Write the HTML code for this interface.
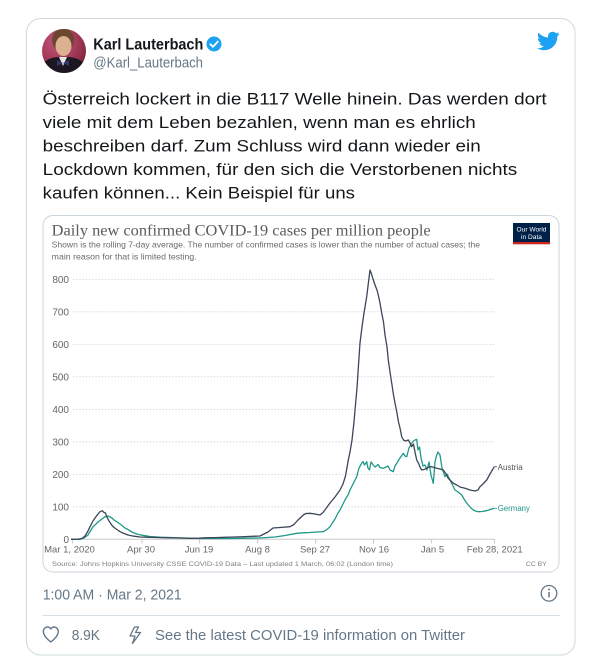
<!DOCTYPE html>
<html>
<head>
<meta charset="utf-8">
<style>
html,body{margin:0;padding:0;background:#fff;width:608px;height:666px;overflow:hidden}
svg{display:block}
</style>
</head>
<body>
<svg width="608" height="666" viewBox="0 0 608 666" xmlns="http://www.w3.org/2000/svg" font-family="'Liberation Sans', sans-serif">
  <defs>
    <clipPath id="av"><circle cx="64" cy="51" r="22"/></clipPath>
    <radialGradient id="bg" cx="0.35" cy="0.3" r="0.8">
      <stop offset="0" stop-color="#c2577a"/>
      <stop offset="0.6" stop-color="#9a3350"/>
      <stop offset="1" stop-color="#5a1a2c"/>
    </radialGradient>
  </defs>

  <!-- outer card -->
  <rect x="26.5" y="18.5" width="548.5" height="636.5" rx="14" fill="#fff" stroke="#cfd9de" stroke-width="1"/>

  <!-- avatar -->
  <g clip-path="url(#av)">
    <rect x="40" y="27" width="50" height="50" fill="url(#bg)"/>
    <ellipse cx="63" cy="40" rx="11" ry="12" fill="#6b4630"/>
    <ellipse cx="63.5" cy="46" rx="8" ry="10" fill="#dcb090"/>
    <path d="M40 80 L42 64 Q50 56 63 57 Q77 56 85 64 L88 80 Z" fill="#1c1620"/>
    <path d="M59 57 L63 66 L67 57 Z" fill="#e8e4e8"/>
    <path d="M57 60 L63 63 L57 66 Z M69 60 L63 63 L69 66 Z" fill="#2d3a70"/>
  </g>

  <!-- name / handle -->
  <text x="93.3" y="49.3" font-size="15.5" font-weight="bold" fill="#14171a" textLength="110" lengthAdjust="spacingAndGlyphs">Karl Lauterbach</text>
  <circle cx="214" cy="44" r="7.5" fill="#1da1f2"/>
  <path d="M210.3 44.2 L213 46.8 L217.8 41.6" fill="none" stroke="#fff" stroke-width="1.8" stroke-linecap="round" stroke-linejoin="round"/>
  <text x="93.3" y="67.7" font-size="15" fill="#657786" textLength="109.7" lengthAdjust="spacingAndGlyphs">@Karl_Lauterbach</text>

  <!-- twitter bird -->
  <g transform="translate(536,29)">
    <path fill="#1da1f2" d="M23.643 4.937c-.835.37-1.732.62-2.675.75.962-.576 1.7-1.49 2.048-2.578-.9.534-1.897.922-2.958 1.13-.85-.904-2.06-1.47-3.4-1.47-2.572 0-4.658 2.086-4.658 4.66 0 .364.042.718.12 1.06-3.873-.195-7.304-2.05-9.602-4.868-.4.69-.63 1.49-.63 2.342 0 1.616.823 3.043 2.072 3.878-.764-.025-1.482-.234-2.11-.583v.06c0 2.257 1.605 4.14 3.737 4.568-.392.106-.803.162-1.227.162-.3 0-.593-.028-.877-.082.593 1.85 2.313 3.198 4.352 3.234-1.595 1.25-3.604 1.995-5.786 1.995-.376 0-.747-.022-1.112-.065 2.062 1.323 4.51 2.093 7.14 2.093 8.57 0 13.255-7.098 13.255-13.254 0-.2-.005-.402-.014-.602.91-.658 1.7-1.477 2.323-2.41z"/>
  </g>

  <!-- tweet text -->
  <g font-size="16.5" fill="#14171a">
    <text x="42.7" y="104.5" textLength="504" lengthAdjust="spacingAndGlyphs">Österreich lockert in die B117 Welle hinein. Das werden dort</text>
    <text x="42.7" y="128" textLength="433" lengthAdjust="spacingAndGlyphs">viele mit dem Leben bezahlen, wenn man es ehrlich</text>
    <text x="42.7" y="151.5" textLength="438" lengthAdjust="spacingAndGlyphs">beschreiben darf. Zum Schluss wird dann wieder ein</text>
    <text x="42.7" y="175" textLength="474.6" lengthAdjust="spacingAndGlyphs">Lockdown kommen, für den sich die Verstorbenen nichts</text>
    <text x="42.7" y="198.5" textLength="312.3" lengthAdjust="spacingAndGlyphs">kaufen können... Kein Beispiel für uns</text>
  </g>

  <!-- chart card -->
  <rect x="43" y="215.5" width="516" height="356.5" rx="10" fill="#fff" stroke="#ccd6dd" stroke-width="1"/>

  <text x="51.7" y="235.7" font-family="'Liberation Serif', serif" font-size="15.5" fill="#5b5b5b" textLength="379" lengthAdjust="spacingAndGlyphs">Daily new confirmed COVID-19 cases per million people</text>
  <text x="51.7" y="247.3" font-size="8.3" fill="#6a6a6a" textLength="428.3" lengthAdjust="spacingAndGlyphs">Shown is the rolling 7-day average. The number of confirmed cases is lower than the number of actual cases; the</text>
  <text x="51.7" y="259.3" font-size="8.3" fill="#6a6a6a" textLength="145" lengthAdjust="spacingAndGlyphs">main reason for that is limited testing.</text>

  <!-- OWID logo -->
  <rect x="513" y="223" width="37" height="19" fill="#002147"/>
  <rect x="513" y="242" width="37" height="2.3" fill="#ce261e"/>
  <text x="531.5" y="231.3" font-size="6.6" fill="#fff" text-anchor="middle">Our World</text>
  <text x="531.5" y="239" font-size="6.6" fill="#fff" text-anchor="middle">in Data</text>

  <!-- grid -->
  <g stroke="#d4d4d4" stroke-width="0.9" stroke-dasharray="1.6,1.6">
    <line x1="73" y1="279.3" x2="495" y2="279.3"/>
    <line x1="73" y1="311.8" x2="495" y2="311.8"/>
    <line x1="73" y1="344.3" x2="495" y2="344.3"/>
    <line x1="73" y1="376.8" x2="495" y2="376.8"/>
    <line x1="73" y1="409.3" x2="495" y2="409.3"/>
    <line x1="73" y1="441.8" x2="495" y2="441.8"/>
    <line x1="73" y1="474.3" x2="495" y2="474.3"/>
    <line x1="73" y1="506.8" x2="495" y2="506.8"/>
  </g>
  <line x1="71" y1="539.3" x2="495" y2="539.3" stroke="#c8c8c8" stroke-width="1"/>
  <g stroke="#c8c8c8" stroke-width="1">
    <line x1="72.4" y1="539.3" x2="72.4" y2="543.5"/>
    <line x1="142" y1="539.3" x2="142" y2="543.5"/>
    <line x1="199.6" y1="539.3" x2="199.6" y2="543.5"/>
    <line x1="257.6" y1="539.3" x2="257.6" y2="543.5"/>
    <line x1="315.6" y1="539.3" x2="315.6" y2="543.5"/>
    <line x1="373.6" y1="539.3" x2="373.6" y2="543.5"/>
    <line x1="431.6" y1="539.3" x2="431.6" y2="543.5"/>
    <line x1="494.6" y1="539.3" x2="494.6" y2="543.5"/>
  </g>

  <!-- y labels -->
  <g font-size="10" fill="#666" text-anchor="end">
    <text x="69" y="282.8">800</text>
    <text x="69" y="315.3">700</text>
    <text x="69" y="347.8">600</text>
    <text x="69" y="380.3">500</text>
    <text x="69" y="412.8">400</text>
    <text x="69" y="445.3">300</text>
    <text x="69" y="477.8">200</text>
    <text x="69" y="510.3">100</text>
    <text x="69" y="542.8">0</text>
  </g>

  <!-- x labels -->
  <g font-size="9.5" fill="#666" text-anchor="middle">
    <text x="69.5" y="552.5">Mar 1, 2020</text>
    <text x="141" y="552.5">Apr 30</text>
    <text x="199" y="552.5">Jun 19</text>
    <text x="257.5" y="552.5">Aug 8</text>
    <text x="315" y="552.5">Sep 27</text>
    <text x="374" y="552.5">Nov 16</text>
    <text x="432.5" y="552.5">Jan 5</text>
    <text x="494.7" y="552.5">Feb 28, 2021</text>
  </g>

  <!-- Germany -->
  <polyline fill="none" stroke="#1f9989" stroke-width="1.3" stroke-linejoin="round" points="71,539.3 80,539.2 84,538 88,535 91,530 93,526.7 96,524 98,522 100,520.5 102,519 105,516.7 108,516 110,517 112,518 114,520 116.7,521.7 120,524 122.5,526 125,528 128,529.5 130,531 133,532.5 136.7,534 142,535.2 150,536.5 160,537.2 170,537.5 185,538 199,538.5 215,538.5 230,538.5 245,538.2 260,538 275,537 285,535.5 296.7,533.3 303,532.8 310,532.5 317,532 323.3,531.7 327,529.5 330,526.7 333,522 335,519 338,513 340,510 343,504 345,500 348,495 350,490 353,484 356.7,476.7 359,468 361.7,463.3 363,461.5 364.5,465 366.7,461.7 368,468 369.5,470 371,462 373.3,465 375,467 378,464.5 380,467.5 383.3,468.3 386,467 388,466 390,470 392,471 393.3,471.7 395,466 396.7,463.3 400,458 403.3,453.3 405,456 406.7,456.7 409,448 411.7,443.3 413.5,441 415,440 416.7,439.3 418,450 419.5,447 421,458 423,466 425,465 427,470 429,462 431,475 433.3,483.3 435,462 436.7,455 438,452 440,455 442,468 445,476.7 447,474 450,480 453,486 455,490 458,492 461.7,495 464,499 466,502 468.3,505 471,508 474,510.5 478.3,511.7 482,511.5 486.7,510.7 490,509.5 494.3,508.3"/>

  <!-- Austria -->
  <polyline fill="none" stroke="#3d4659" stroke-width="1.3" stroke-linejoin="round" points="71,539.3 78,539.2 82,538.5 85,536 88,531 90,526.7 93,521 95,518 98,514 100,511.7 102.3,510.7 104,512.5 105.5,513 106.7,516.7 109,521 111.7,525 114,527.5 117,529.5 120,531.7 124,533.5 128,535 134,536.2 140,537 150,537.3 160,537.6 170,537.8 180,538 190,538.3 199,538.2 205,537.8 215,537.6 225,537.3 235,537 245,536.6 255,536.2 260,536 264,534 268,532 273,528 280,527.5 290,526.7 294,524.5 298,520 303.3,515 306,513.5 310,513.3 315,514 320,515 323,512.5 326,508.5 330,503 335,497 340,490 343,484 345.5,476 348.3,460 350,452 352,440 354,422 355,410 357,388 358.5,365 360,343 362,327 364,313 366.7,296.7 368.5,282 370,270 371.5,274 373,279 375,285 377,290 378.5,296 380,303 381.7,313 383.5,322 385,335 387,347 388.3,360 390,372 392,385 393.5,395 395,403 397,413 398.5,422 400,428 401.7,436.7 403.5,440 405.5,441 408.3,440 410,443 411.7,446.7 413.5,444 415,452 416.7,460 418.5,463.3 420,467 421.7,470 424,469.5 426.7,468.3 429,467 431.7,466.7 434,467.5 436.7,468.3 440,469 443.3,470 446,474 448,478 450,480 453,483 456.7,485 460,487 465,488.3 470,490 475,491 478,490 480,486.7 483,484 486.7,480 490,474 494.3,466.7"/>

  <!-- series labels -->
  <line x1="494.5" y1="466.7" x2="497" y2="466.7" stroke="#3d4659" stroke-width="0.8"/>
  <line x1="494.5" y1="508.3" x2="497" y2="508.3" stroke="#1f9989" stroke-width="0.8"/>
  <text x="497.7" y="470" font-size="8" fill="#555" textLength="25" lengthAdjust="spacingAndGlyphs">Austria</text>
  <text x="497.7" y="511" font-size="8" fill="#1f9989" textLength="32.3" lengthAdjust="spacingAndGlyphs">Germany</text>

  <!-- source -->
  <text x="52" y="566" font-size="6.8" fill="#808080" textLength="341" lengthAdjust="spacingAndGlyphs">Source: Johns Hopkins University CSSE COVID-19 Data – Last updated 1 March, 06:02 (London time)</text>
  <text x="546.7" y="566" font-size="6.8" fill="#808080" text-anchor="end">CC BY</text>

  <!-- timestamp -->
  <text x="42.7" y="599.3" font-size="14.5" fill="#657786" textLength="139" lengthAdjust="spacingAndGlyphs">1:00 AM · Mar 2, 2021</text>
  <circle cx="549" cy="593.3" r="7.8" fill="none" stroke="#657786" stroke-width="1.3"/>
  <circle cx="549" cy="589.5" r="1" fill="#657786"/>
  <line x1="549" y1="592" x2="549" y2="597.5" stroke="#657786" stroke-width="1.5"/>

  <!-- divider -->
  <line x1="42.7" y1="615.5" x2="560" y2="615.5" stroke="#d6dfe5" stroke-width="1"/>

  <!-- heart -->
  <path d="M50.8 642 C45 637.5 43.3 634.5 43.3 631.5 C43.3 628.7 45.4 627 47.6 627 C49.2 627 50.2 628 50.8 629 C51.4 628 52.4 627 54 627 C56.2 627 58.3 628.7 58.3 631.5 C58.3 634.5 56.6 637.5 50.8 642 Z" fill="none" stroke="#657786" stroke-width="1.4" stroke-linejoin="round"/>
  <text x="71.7" y="640" font-size="14.5" fill="#657786" textLength="28.3" lengthAdjust="spacingAndGlyphs">8.9K</text>

  <!-- lightning -->
  <path d="M134.5 627 L130 636 L135 636 L132.5 643.5 L140.5 632.5 L135.5 632.5 L138.5 627 Z" fill="none" stroke="#657786" stroke-width="1.3" stroke-linejoin="round"/>
  <text x="155" y="640" font-size="14.5" fill="#657786" textLength="310" lengthAdjust="spacingAndGlyphs">See the latest COVID-19 information on Twitter</text>
</svg>
</body>
</html>
